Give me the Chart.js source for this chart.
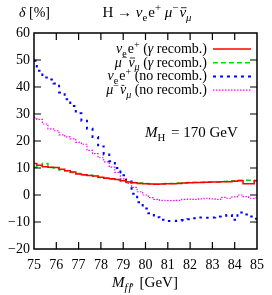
<!DOCTYPE html>
<html>
<head>
<meta charset="utf-8">
<script src="https://cdn.jsdelivr.net/npm/chart.js@4"></script>
<style>
  html, body { margin: 0; padding: 0; background: #fff; }
  #wrap { width: 272px; height: 295px; }
</style>
</head>
<body>
<div id="wrap"><canvas id="deltaChart" width="272" height="295"></canvas></div>
<script>
// bin positions (GeV)
const masses = [75, 75.25, 75.5, 75.75, 76, 76.25, 76.5, 76.75, 77, 77.25, 77.5, 77.75,
  78, 78.25, 78.5, 78.75, 79, 79.25, 79.5, 79.75, 80, 80.25, 80.5, 80.75,
  81, 81.25, 81.5, 81.75, 82, 82.25, 82.5, 82.75, 83, 83.25, 83.5, 83.75,
  84, 84.25, 84.5, 84.75, 85];

// delta [%]
const nueRecomb = [11.7, 11.0, 10.5, 10.3, 10.2, 9.5, 9.0, 8.5, 7.8, 7.5, 7.2, 7.0,
  6.6, 6.2, 6.0, 5.7, 5.3, 4.8, 4.5, 4.3, 4.2, 4.1, 4.0, 4.1,
  4.2, 4.2, 4.3, 4.4, 4.5, 4.6, 4.6, 4.7, 4.8, 4.8, 4.9, 4.9,
  5.1, 5.3, 4.2, 4.2, 5.3];
const muRecomb = [10.3, 10.8, 11.7, 10.2, 10.0, 9.3, 9.0, 8.3, 8.0, 7.4, 7.3, 6.9,
  6.5, 6.3, 5.8, 5.6, 5.2, 4.9, 4.6, 4.4, 4.3, 4.2, 4.1, 4.2,
  4.3, 4.3, 4.4, 4.5, 4.6, 4.6, 4.7, 4.8, 4.8, 4.9, 5.0, 5.1,
  5.3, 5.5, 5.5, 5.5, 5.4];
const nueNoRecomb = [49.7, 46.0, 43.5, 42.8, 41.3, 38.0, 35.5, 33.0, 30.3, 27.5, 24.5, 21.5,
  18.0, 15.0, 12.5, 10.0, 7.3, 5.0, 0.5, -2.7, -5.0, -6.8, -8.2, -9.2,
  -9.6, -9.6, -9.5, -9.3, -9.0, -8.6, -8.3, -8.4, -8.3, -8.0, -7.7, -7.4,
  -9.2, -6.5, -7.2, -8.0, -8.8];
const muNoRecomb = [28.6, 28.0, 26.3, 24.5, 23.8, 22.3, 21.5, 20.8, 19.5, 18.8, 16.5, 15.3,
  13.8, 12.3, 10.3, 8.4, 6.0, 4.3, 2.8, 1.2, 0.0, -1.0, -1.6, -2.0,
  -2.1, -2.1, -2.0, -1.6, -1.5, -1.6, -1.4, -1.2, -1.4, -1.6, -0.9, -1.2,
  -0.7, 0.0, -0.6, -1.2, -1.0];

const FONT = '"Liberation Serif", "DejaVu Serif", serif';

function pts(ys) {
    return masses.map((m, i) => ({ x: m, y: ys[i] }));
}

// draw text pieces: {t, it, sub, sup}
function richWidth(ctx, parts, size) {
    let w = 0;
    parts.forEach(p => {
        const s = (p.sub || p.sup) ? size * 0.72 : size;
        ctx.font = (p.it ? 'italic ' : '') + s + 'px ' + FONT;
        w += ctx.measureText(p.t).width + (p.gap || 0);
    });
    return w;
}
function drawRich(ctx, parts, x, y, size, align) {
    let cx = x;
    if (align === 'right') cx = x - richWidth(ctx, parts, size);
    if (align === 'center') cx = x - richWidth(ctx, parts, size) / 2;
    ctx.textBaseline = 'alphabetic';
    ctx.textAlign = 'left';
    ctx.fillStyle = '#000';
    parts.forEach(p => {
        const s = (p.sub || p.sup) ? size * 0.72 : size;
        ctx.font = (p.it ? 'italic ' : '') + s + 'px ' + FONT;
        let dy = 0;
        if (p.sub) dy = size * 0.25;
        if (p.sup) dy = -size * 0.38;
        ctx.fillText(p.t, cx, y + dy);
        const w = ctx.measureText(p.t).width;
        if (p.bar) {
            ctx.save();
            ctx.strokeStyle = '#000';
            ctx.lineWidth = 0.8;
            ctx.beginPath();
            const by = y + dy - s * 0.62;
            ctx.moveTo(cx + 1.5, by);
            ctx.lineTo(cx + w + 0.5, by);
            ctx.stroke();
            ctx.restore();
        }
        cx += w + (p.gap || 0);
    });
}

const nuE = [{ t: 'ν', it: true }, { t: 'e', sub: true, gap: 1 }, { t: 'e' }, { t: '+', sup: true }];
const muNu = [{ t: 'μ', it: true }, { t: '−', sup: true, gap: 1 }, { t: 'ν', it: true, bar: true }, { t: 'μ', it: true, sub: true }];

const legendRows = [
    { parts: nuE.concat([{ t: ' (' }, { t: 'γ', it: true }, { t: ' recomb.)' }]), color: '#ff0000', dash: [], width: 1.5 },
    { parts: muNu.concat([{ t: ' (' }, { t: 'γ', it: true }, { t: ' recomb.)' }]), color: '#00dd00', dash: [5, 3], width: 1.5 },
    { parts: nuE.concat([{ t: ' (no recomb.)' }]), color: '#0000ff', dash: [3, 4], width: 2 },
    { parts: muNu.concat([{ t: ' (no recomb.)' }]), color: '#ff00ff', dash: [1.5, 1.5], width: 1.2 }
];

const decorPlugin = {
    id: 'decor',
    afterDraw(chart) {
        const ctx = chart.ctx;
        const a = chart.chartArea;
        const xs = chart.scales.x, ys = chart.scales.y;
        ctx.save();
        // frame
        ctx.strokeStyle = '#000';
        ctx.lineWidth = 1.5;
        ctx.setLineDash([]);
        ctx.strokeRect(a.left, a.top, a.right - a.left, a.bottom - a.top);
        // inward ticks
        ctx.lineWidth = 1.2;
        const tl = 7;
        ctx.beginPath();
        for (let v = 76; v < 85; v++) {
            const px = xs.getPixelForValue(v);
            ctx.moveTo(px, a.bottom); ctx.lineTo(px, a.bottom - tl);
            ctx.moveTo(px, a.top); ctx.lineTo(px, a.top + tl);
        }
        for (let v = -10; v < 60; v += 10) {
            const py = ys.getPixelForValue(v);
            ctx.moveTo(a.left, py); ctx.lineTo(a.left + tl, py);
            ctx.moveTo(a.right, py); ctx.lineTo(a.right - tl, py);
        }
        ctx.stroke();

        // legend
        legendRows.forEach((r, i) => {
            const y = 53 + i * 13.7;
            drawRich(ctx, r.parts, 207, y, 14, 'right');
            ctx.strokeStyle = r.color;
            ctx.lineWidth = r.width;
            ctx.setLineDash(r.dash);
            ctx.beginPath();
            ctx.moveTo(213, y - 4);
            ctx.lineTo(251, y - 4);
            ctx.stroke();
        });
        ctx.setLineDash([]);

        // title and axis labels
        drawRich(ctx, [{ t: 'H → ' }].concat(nuE, [{ t: ' ' }], muNu), 147, 17, 15, 'center');
        drawRich(ctx, [{ t: 'δ', it: true }, { t: ' [%]' }], 19, 17, 14, 'left');
        drawRich(ctx, [{ t: 'M', it: true }, { t: 'f', it: true, sub: true, gap: 1 }, { t: 'f', it: true, sub: true, bar: true }, { t: '′', sub: true, gap: 2 }, { t: ' [GeV]' }], 112, 287, 15, 'left');
        drawRich(ctx, [{ t: 'M', it: true }, { t: 'H', sub: true, gap: 2 }, { t: ' = 170 GeV' }], 145, 137, 15, 'left');
        ctx.restore();
    }
};

const ctx = document.getElementById('deltaChart').getContext('2d');
new Chart(ctx, {
    type: 'line',
    data: {
        datasets: [
            { label: 'nue recomb', data: pts(nueRecomb), borderColor: '#ff0000', borderWidth: 1.5, stepped: 'middle', pointRadius: 0 },
            { label: 'mu recomb', data: pts(muRecomb), borderColor: '#00dd00', borderWidth: 1.5, borderDash: [5, 3], stepped: 'middle', pointRadius: 0 },
            { label: 'nue no recomb', data: pts(nueNoRecomb), borderColor: '#0000ff', borderWidth: 2, borderDash: [2.5, 4.5], stepped: 'middle', pointRadius: 0 },
            { label: 'mu no recomb', data: pts(muNoRecomb), borderColor: '#ff00ff', borderWidth: 1.2, borderDash: [1.5, 1.5], stepped: 'middle', pointRadius: 0 }
        ]
    },
    options: {
        responsive: false,
        animation: false,
        layout: { padding: { left: 0, top: 33, right: 7, bottom: 0 } },
        scales: {
            x: {
                type: 'linear', min: 75, max: 85,
                grid: { display: false, drawTicks: false },
                border: { display: false },
                ticks: { stepSize: 1, padding: 8, color: '#000', font: { family: FONT, size: 14 } },
                afterFit: s => { s.height = 46; }
            },
            y: {
                min: -20, max: 60,
                grid: { display: false, drawTicks: false },
                border: { display: false },
                ticks: {
                    stepSize: 10, padding: 4, color: '#000', font: { family: FONT, size: 14 },
                    callback: v => String(v).replace('-', '−')
                },
                afterFit: s => { s.width = 34; }
            }
        },
        plugins: { legend: { display: false }, tooltip: { enabled: false } }
    },
    plugins: [decorPlugin]
});
</script>
</body>
</html>
